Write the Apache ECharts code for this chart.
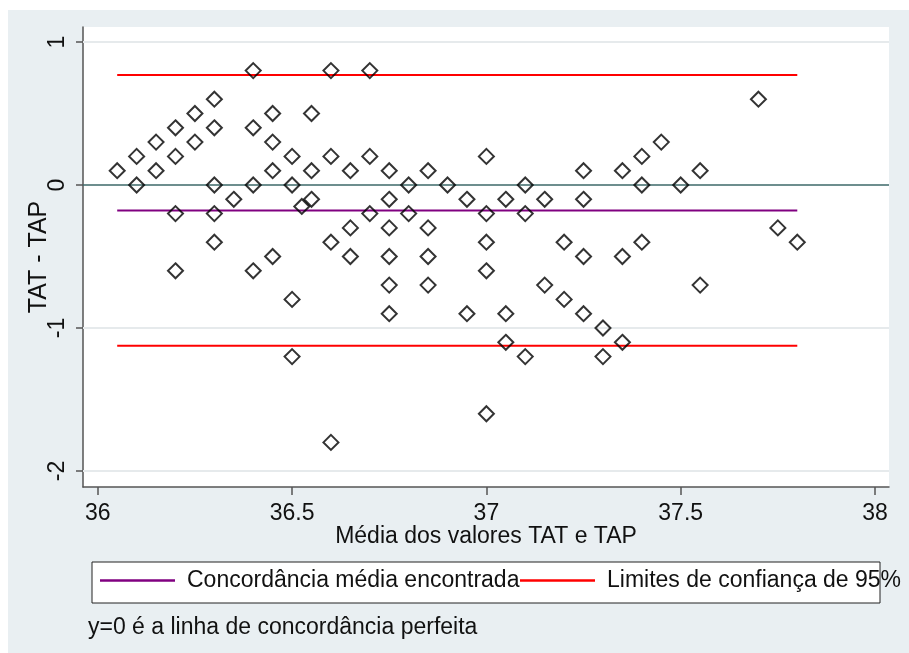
<!DOCTYPE html>
<html>
<head>
<meta charset="utf-8">
<title>Bland-Altman TAT vs TAP</title>
<script src="https://cdn.jsdelivr.net/npm/echarts@6.0.0/dist/echarts.min.js"></script>
<style>
  html, body { margin: 0; padding: 0; background: #ffffff; }
  #chart { width: 909px; height: 653px; }
</style>
</head>
<body>
<div id="chart"></div>
<script>
// Mean of the two readings (x) and their difference TAT - TAP (y)
const meanTemp = [
  36.05,
  36.1, 36.1,
  36.15, 36.15,
  36.2, 36.2, 36.2, 36.2,
  36.25, 36.25,
  36.3, 36.3, 36.3, 36.3, 36.3,
  36.35,
  36.4, 36.4, 36.4, 36.4,
  36.45, 36.45, 36.45, 36.45,
  36.5, 36.5, 36.5, 36.5,
  36.525,
  36.55, 36.55, 36.55,
  36.6, 36.6, 36.6, 36.6,
  36.65, 36.65, 36.65,
  36.7, 36.7, 36.7,
  36.75, 36.75, 36.75, 36.75, 36.75, 36.75,
  36.8, 36.8,
  36.85, 36.85, 36.85, 36.85,
  36.9,
  36.95, 36.95,
  37, 37, 37, 37, 37,
  37.05, 37.05, 37.05,
  37.1, 37.1, 37.1,
  37.15, 37.15,
  37.2, 37.2,
  37.25, 37.25, 37.25, 37.25,
  37.3, 37.3,
  37.35, 37.35, 37.35,
  37.4, 37.4, 37.4,
  37.45,
  37.5,
  37.55, 37.55,
  37.7,
  37.75,
  37.8
];
const diffTemp = [
  0.1,
  0.2, 0,
  0.3, 0.1,
  0.4, 0.2, -0.2, -0.6,
  0.5, 0.3,
  0.6, 0.4, 0, -0.2, -0.4,
  -0.1,
  0.8, 0.4, 0, -0.6,
  0.5, 0.3, 0.1, -0.5,
  0.2, 0, -0.8, -1.2,
  -0.15,
  0.5, 0.1, -0.1,
  0.8, 0.2, -0.4, -1.8,
  0.1, -0.3, -0.5,
  0.8, 0.2, -0.2,
  0.1, -0.1, -0.3, -0.5, -0.7, -0.9,
  0, -0.2,
  0.1, -0.3, -0.5, -0.7,
  0,
  -0.1, -0.9,
  0.2, -0.2, -0.4, -0.6, -1.6,
  -0.1, -0.9, -1.1,
  0, -0.2, -1.2,
  -0.1, -0.7,
  -0.4, -0.8,
  0.1, -0.1, -0.5, -0.9,
  -1.0, -1.2,
  0.1, -0.5, -1.1,
  0.2, 0, -0.4,
  0.3,
  0,
  0.1, -0.7,
  0.6,
  -0.3,
  -0.4
];

// Mean difference and 95% limits of agreement
const meanDiff = -0.178;
const upperLimit = 0.769;
const lowerLimit = -1.124;
const lineRange = [36.05, 37.8];

// Axis ticks
const xTicks = [36, 36.5, 37, 37.5, 38];
const yTicks = [-2, -1, 0, 1];
const yGridValues = [-2, -1, 1];

const legendNames = ['Concordância média encontrada', 'Limites de confiança de 95%'];
const noteText = 'y=0 é a linha de concordância perfeita';

const FONT = '"Liberation Sans", Arial, sans-serif';
const FS = 23;

const points = meanTemp.map((x, i) => [x, diffTemp[i]]);
const hLine = v => lineRange.map(x => [x, v]);

const chart = echarts.init(document.getElementById('chart'), null, { renderer: 'canvas' });

chart.setOption({
  backgroundColor: '#e9eff2',
  animation: false,
  textStyle: { fontFamily: FONT },
  title: {
    text: noteText,
    left: 88,
    top: 616,
    padding: 0,
    textStyle: { fontFamily: FONT, fontSize: FS, fontWeight: 'normal', color: '#111' }
  },
  graphic: [
    { type: 'rect', shape: { x: 0, y: 0, width: 909, height: 10 }, style: { fill: '#ffffff' }, silent: true },
    { type: 'rect', shape: { x: 0, y: 0, width: 8, height: 653 }, style: { fill: '#ffffff' }, silent: true },
    { type: 'rect', shape: { x: 92, y: 562, width: 788, height: 41 },
      style: { fill: '#ffffff', stroke: '#222', lineWidth: 1 }, silent: true }
  ],
  legend: [
    {
      data: [legendNames[0]],
      left: 100, top: 569,
      padding: 0,
      icon: 'rect', itemWidth: 75, itemHeight: 2.5,
      textStyle: { fontFamily: FONT, fontSize: FS, color: '#111', padding: [0, 0, 0, 7] },
      selectedMode: false, z: 10
    },
    {
      data: [legendNames[1]],
      left: 520, top: 569,
      padding: 0,
      icon: 'rect', itemWidth: 75, itemHeight: 2.5,
      textStyle: { fontFamily: FONT, fontSize: FS, color: '#111', padding: [0, 0, 0, 7] },
      selectedMode: false, z: 10
    }
  ],
  grid: {
    left: 83, right: 20, top: 27, bottom: 166,
    show: true, backgroundColor: '#ffffff', borderWidth: 0
  },
  xAxis: {
    type: 'value',
    min: 35.962, max: 38.036,
    name: 'Média dos valores TAT e TAP',
    nameLocation: 'middle',
    nameMoveOverlap: false,
    nameGap: 38,
    nameTextStyle: { fontFamily: FONT, fontSize: FS, color: '#111' },
    axisLine: { show: true, onZero: false, lineStyle: { color: '#555', width: 1.5 } },
    axisTick: { show: true, length: 8, customValues: xTicks, lineStyle: { color: '#555', width: 1.5 } },
    axisLabel: { customValues: xTicks, margin: 15, fontFamily: FONT, fontSize: FS, color: '#111',
      formatter: v => String(v) },
    splitLine: { show: false }
  },
  yAxis: {
    type: 'value',
    min: -2.112, max: 1.105,
    name: 'TAT - TAP',
    nameLocation: 'middle',
    nameRotate: 90,
    nameMoveOverlap: false,
    nameGap: 31,
    nameTextStyle: { fontFamily: FONT, fontSize: 25, color: '#111' },
    axisLine: { show: true, onZero: false, lineStyle: { color: '#555', width: 1.5 } },
    axisTick: { show: true, length: 7, customValues: yTicks, lineStyle: { color: '#555', width: 1.5 } },
    axisLabel: { customValues: yTicks, rotate: 90, margin: 14, fontFamily: FONT, fontSize: FS, color: '#111',
      formatter: v => String(v) },
    splitLine: { show: false }
  },
  series: [
    {
      // reference grid lines and the y=0 line of perfect agreement
      type: 'line',
      data: [],
      silent: true,
      markLine: {
        silent: true,
        symbol: 'none',
        label: { show: false },
        data: [
          ...yGridValues.map(v => ({ yAxis: v, lineStyle: { color: '#e6eaec', width: 2, type: 'solid' } })),
          { yAxis: 0, lineStyle: { color: '#3d6868', width: 1.5, type: 'solid' } }
        ]
      }
    },
    {
      name: legendNames[0],
      type: 'line',
      data: hLine(meanDiff),
      symbol: 'none',
      lineStyle: { color: '#800080', width: 2 },
      itemStyle: { color: '#800080' },
      z: 3
    },
    {
      name: legendNames[1],
      type: 'line',
      data: hLine(upperLimit),
      symbol: 'none',
      lineStyle: { color: '#ff0000', width: 2 },
      itemStyle: { color: '#ff0000' },
      z: 3
    },
    {
      name: legendNames[1],
      type: 'line',
      data: hLine(lowerLimit),
      symbol: 'none',
      lineStyle: { color: '#ff0000', width: 2 },
      itemStyle: { color: '#ff0000' },
      z: 3
    },
    {
      name: 'TAT - TAP',
      type: 'scatter',
      data: points,
      symbol: 'diamond',
      symbolSize: 15,
      itemStyle: { color: 'rgba(255,255,255,0)', borderColor: '#000', borderWidth: 2 },
      z: 5
    }
  ]
});
</script>
</body>
</html>
